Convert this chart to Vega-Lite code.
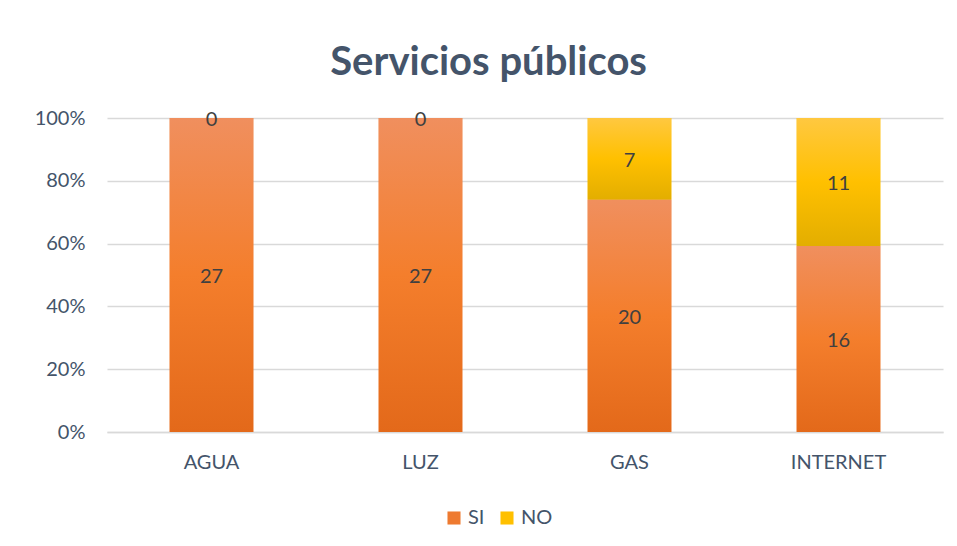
{
  "$schema": "https://vega.github.io/schema/vega-lite/v6.json",
  "width": 957,
  "height": 546,
  "autosize": {"type": "fit", "contains": "padding"},
  "padding": {"left": 34, "right": 14, "top": 43, "bottom": 74},
  "background": "white",
  "config": {"view": {"stroke": null}, "font": "Lato"},
  "title": {"text": "Servicios públicos", "font": "Lato", "fontSize": 40, "fontWeight": "bold", "color": "#44546A", "offset": 25, "anchor": "middle", "frame": "bounds"},
  "data": {"values": [
    {"servicio": "AGUA", "serie": "SI", "valor": 27},
    {"servicio": "AGUA", "serie": "NO", "valor": 0},
    {"servicio": "LUZ", "serie": "SI", "valor": 27},
    {"servicio": "LUZ", "serie": "NO", "valor": 0},
    {"servicio": "GAS", "serie": "SI", "valor": 20},
    {"servicio": "GAS", "serie": "NO", "valor": 7},
    {"servicio": "INTERNET", "serie": "SI", "valor": 16},
    {"servicio": "INTERNET", "serie": "NO", "valor": 11}
  ]},
  "transform": [
    {"stack": "valor", "groupby": ["servicio"], "sort": [{"field": "serie", "order": "descending"}], "offset": "normalize", "as": ["y0", "y1"]},
    {"calculate": "(datum.y0 + datum.y1) / 2", "as": "ymid"}
  ],
  "encoding": {
    "x": {
      "field": "servicio", "type": "nominal", "sort": ["AGUA", "LUZ", "GAS", "INTERNET"],
      "scale": {"paddingInner": 0.6, "paddingOuter": 0.3},
      "axis": {"title": null, "labelAngle": 0, "labelFontSize": 20, "labelColor": "#44546A", "labelPadding": 20, "ticks": false, "domainColor": "#D9D9D9", "domainWidth": 1.5, "labelFont": "Lato"}
    }
  },
  "layer": [
    {
      "mark": {"type": "bar"},
      "encoding": {
        "y": {"field": "y0", "type": "quantitative", "scale": {"domain": [0, 1]},
          "axis": {"title": null, "format": ".0%", "values": [0, 0.2, 0.4, 0.6, 0.8, 1], "labelFontSize": 20, "labelColor": "#44546A", "labelPadding": 22, "ticks": false, "domain": false, "gridColor": "#D9D9D9", "gridWidth": 1.5, "labelFont": "Lato"}},
        "y2": {"field": "y1"},
        "color": {"field": "serie", "type": "nominal", "scale": {"domain": ["SI", "NO"], "range": ["#EE7A30", "#FFC000"]},
          "legend": {"title": null, "orient": "none", "legendX": 337, "legendY": 390, "direction": "horizontal", "symbolType": "square", "symbolSize": 170, "symbolStrokeWidth": 0, "labelFontSize": 20, "labelColor": "#44546A", "labelFont": "Lato", "columnPadding": 12, "labelOffset": 4}}
      }
    },
    {
      "transform": [{"filter": "datum.serie === 'SI'"}],
      "mark": {"type": "bar", "color": {"gradient": "linear", "x1": 0, "y1": 0, "x2": 0, "y2": 1, "stops": [{"offset": 0, "color": "#F08F5E"}, {"offset": 0.5, "color": "#F47E2C"}, {"offset": 1, "color": "#E3691A"}]}},
      "encoding": {"y": {"field": "y0", "type": "quantitative"}, "y2": {"field": "y1"}}
    },
    {
      "transform": [{"filter": "datum.serie === 'NO'"}],
      "mark": {"type": "bar", "color": {"gradient": "linear", "x1": 0, "y1": 0, "x2": 0, "y2": 1, "stops": [{"offset": 0, "color": "#FFC840"}, {"offset": 0.5, "color": "#FFC000"}, {"offset": 1, "color": "#E3AE00"}]}},
      "encoding": {"y": {"field": "y0", "type": "quantitative"}, "y2": {"field": "y1"}}
    },
    {
      "mark": {"type": "text", "fontSize": 20, "color": "#404040", "font": "Lato", "baseline": "middle", "dy": 2},
      "encoding": {"y": {"field": "ymid", "type": "quantitative"}, "text": {"field": "valor", "type": "quantitative"}}
    }
  ]
}
